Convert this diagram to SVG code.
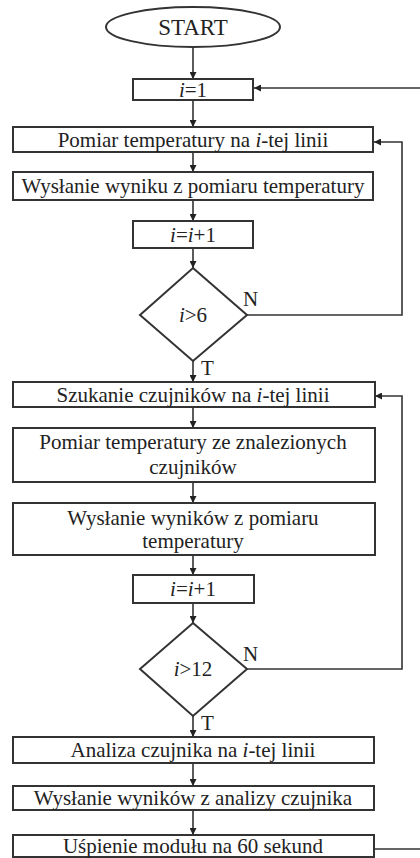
<svg xmlns="http://www.w3.org/2000/svg" width="420" height="858" viewBox="0 0 420 858">
<style>
.box{fill:#fff;stroke:#333;stroke-width:2}
.t{font-family:"Liberation Serif","Times New Roman",serif;font-size:21px;fill:#222;text-anchor:middle}
.lbl{font-family:"Liberation Serif","Times New Roman",serif;font-size:21px;fill:#222}
.c{fill:none;stroke:#333;stroke-width:1.6}
</style>
<defs>
<marker id="ah" viewBox="0 0 10 10" refX="10" refY="5" markerWidth="7" markerHeight="7" markerUnits="userSpaceOnUse" orient="auto">
<path d="M0,0 L10,5 L0,10 Z" fill="#222"/>
</marker>
</defs>
<rect width="420" height="858" fill="#fff"/>
<g id="connectors">
<line class="c" x1="193" y1="47" x2="193" y2="79" marker-end="url(#ah)"/>
<line class="c" x1="193" y1="100" x2="193" y2="127" marker-end="url(#ah)"/>
<line class="c" x1="193" y1="152" x2="193" y2="172" marker-end="url(#ah)"/>
<line class="c" x1="193" y1="200" x2="193" y2="221" marker-end="url(#ah)"/>
<line class="c" x1="193" y1="248" x2="193" y2="268" marker-end="url(#ah)"/>
<line class="c" x1="193" y1="361" x2="193" y2="382" marker-end="url(#ah)"/>
<line class="c" x1="193" y1="407" x2="193" y2="428" marker-end="url(#ah)"/>
<line class="c" x1="193" y1="482" x2="193" y2="503" marker-end="url(#ah)"/>
<line class="c" x1="193" y1="555" x2="193" y2="575" marker-end="url(#ah)"/>
<line class="c" x1="193" y1="603" x2="193" y2="623" marker-end="url(#ah)"/>
<line class="c" x1="193" y1="716" x2="193" y2="737" marker-end="url(#ah)"/>
<line class="c" x1="193" y1="763" x2="193" y2="786" marker-end="url(#ah)"/>
<line class="c" x1="193" y1="810" x2="193" y2="835" marker-end="url(#ah)"/>
<polyline class="c" points="247,315 402,315 402,142 374,142" marker-end="url(#ah)"/>
<polyline class="c" points="247,669 402,669 402,396 375,396" marker-end="url(#ah)"/>
<line class="c" x1="374" y1="849" x2="420" y2="849"/>
<line class="c" x1="420" y1="88" x2="254" y2="88" marker-end="url(#ah)"/>
</g>
<g id="start"><ellipse class="box" cx="193" cy="27" rx="87" ry="20"/><text class="t" x="193" y="35" style="font-size:23px">START</text></g>
<g id="i1"><rect class="box" x="133" y="79" width="120" height="21"/><text class="t" x="193" y="97"><tspan font-style="italic">i</tspan>=1</text></g>
<g id="pomiar1"><rect class="box" x="13" y="127" width="360" height="25"/><text class="t" x="193" y="147">Pomiar temperatury na <tspan font-style="italic">i</tspan>-tej linii</text></g>
<g id="wyslanie1"><rect class="box" x="13" y="172" width="360" height="28"/><text class="t" x="193" y="193">Wysłanie wyniku z pomiaru temperatury</text></g>
<g id="inc1"><rect class="box" x="133" y="221" width="120" height="27"/><text class="t" x="193" y="242"><tspan font-style="italic">i</tspan>=<tspan font-style="italic">i</tspan>+1</text></g>
<g id="dec1"><polygon class="box" points="193,268 247,315 193,361 140,315"/><text class="t" x="193" y="322"><tspan font-style="italic">i</tspan>&gt;6</text><text class="lbl" x="243" y="306">N</text><text class="lbl" x="201" y="375">T</text></g>
<g id="szukanie"><rect class="box" x="13" y="382" width="362" height="25"/><text class="t" x="193" y="402">Szukanie czujników na <tspan font-style="italic">i</tspan>-tej linii</text></g>
<g id="pomiar2"><rect class="box" x="13" y="428" width="362" height="54"/><text class="t" x="193" y="449">Pomiar temperatury ze znalezionych</text><text class="t" x="193" y="474">czujników</text></g>
<g id="wyslanie2"><rect class="box" x="13" y="503" width="362" height="52"/><text class="t" x="193" y="525">Wysłanie wyników z pomiaru</text><text class="t" x="193" y="548">temperatury</text></g>
<g id="inc2"><rect class="box" x="133" y="575" width="121" height="28"/><text class="t" x="193" y="596"><tspan font-style="italic">i</tspan>=<tspan font-style="italic">i</tspan>+1</text></g>
<g id="dec2"><polygon class="box" points="193,623 247,669 193,716 140,669"/><text class="t" x="193" y="676"><tspan font-style="italic">i</tspan>&gt;12</text><text class="lbl" x="243" y="661">N</text><text class="lbl" x="201" y="730">T</text></g>
<g id="analiza"><rect class="box" x="13" y="737" width="361" height="26"/><text class="t" x="193" y="757">Analiza czujnika na <tspan font-style="italic">i</tspan>-tej linii</text></g>
<g id="wyslanie3"><rect class="box" x="13" y="786" width="361" height="24"/><text class="t" x="193" y="805">Wysłanie wyników z analizy czujnika</text></g>
<g id="uspienie"><rect class="box" x="13" y="835" width="361" height="22"/><text class="t" x="193" y="853">Uśpienie modułu na 60 sekund</text></g>
</svg>
